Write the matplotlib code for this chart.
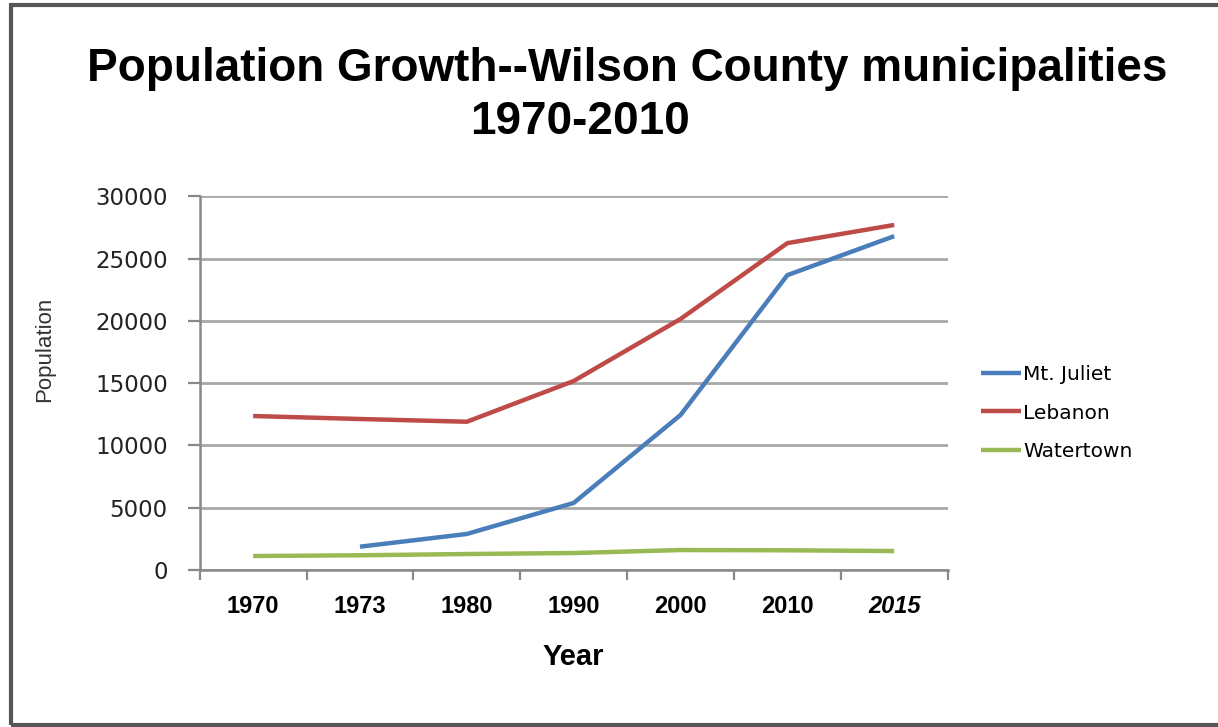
import matplotlib
matplotlib.use("Agg")
import numpy as np
from matplotlib import pyplot as plt
from matplotlib import font_manager as fm
from matplotlib.patches import Rectangle

# data
years = ["1970", "1973", "1980", "1990", "2000", "2010", "2015"]
mt_juliet = [np.nan, 1870, 2890, 5380, 12440, 23670, 26800]
lebanon = [12360, 12120, 11900, 15170, 20150, 26240, 27700]
watertown = [1120, 1180, 1280, 1360, 1600, 1580, 1520]

names = [f.name for f in fm.fontManager.ttflist]
narrow = "Liberation Sans Narrow" if "Liberation Sans Narrow" in names else "Liberation Sans"

fig = plt.figure(figsize=(12.18, 7.27), dpi=100)
ax = fig.add_axes([0.164, 0.216, 0.614, 0.514])

x = np.arange(len(years))
ax.plot(x, mt_juliet, color="#4A7EBB", lw=3.2, label="Mt. Juliet", solid_capstyle="butt")
ax.plot(x, lebanon, color="#BE4B48", lw=3.2, label="Lebanon", solid_capstyle="butt")
ax.plot(x, watertown, color="#98B954", lw=3.2, label="Watertown", solid_capstyle="butt")

ax.set_xlim(-0.5, len(years) - 0.5)
ax.set_ylim(0, 30000)
ax.set_yticks(np.arange(0, 30001, 5000))
ax.grid(axis="y", color="#a8a8a8", lw=2)
ax.set_axisbelow(True)
for s in ["top", "right"]:
    ax.spines[s].set_visible(False)
ax.spines["left"].set_color("#888888")
ax.spines["bottom"].set_color("#888888")
ax.spines["left"].set_linewidth(1.8)
ax.spines["bottom"].set_linewidth(1.8)

# category ticks sit between the labels
ax.set_xticks(np.arange(-0.5, len(years) + 0.5, 1))
ax.set_xticklabels([])
ax.tick_params(axis="x", length=7, width=1.6, color="#888888", direction="out")
ax.set_xticks(x, minor=True)
ax.set_xticklabels(years, minor=True, fontsize=17, fontweight="bold", family=narrow)
ax.tick_params(axis="x", which="minor", length=0, pad=18)
ax.get_xticklabels(minor=True)[-1].set_style("italic")
ax.tick_params(axis="y", length=9, width=1.6, color="#888888", labelsize=16.5,
               labelcolor="#222222", pad=14)

ax.set_xlabel("Year", fontsize=21, fontweight="bold", family=narrow, labelpad=18)
fig.text(0.037, 0.52, "Population", rotation=90, fontsize=16, family=narrow,
         color="#333333", ha="center", va="center")

fig.text(0.515, 0.905, "Population Growth--Wilson County municipalities", fontsize=33,
         fontweight="bold", family=narrow, ha="center", va="center")
fig.text(0.476, 0.832, "1970-2010", fontsize=33, fontweight="bold", family=narrow,
         ha="center", va="center")

ax.legend(loc="center left", bbox_to_anchor=(1.02, 0.42), frameon=False, fontsize=14.5,
          handlelength=2.0, handletextpad=0.1, labelspacing=0.95)

# grey frame of the original screenshot
fig.patches.append(Rectangle((0.009, 0.003), 1.2, 0.99, transform=fig.transFigure,
                             fill=False, edgecolor="#555555", lw=3))

fig.savefig("out.png", dpi=100)
